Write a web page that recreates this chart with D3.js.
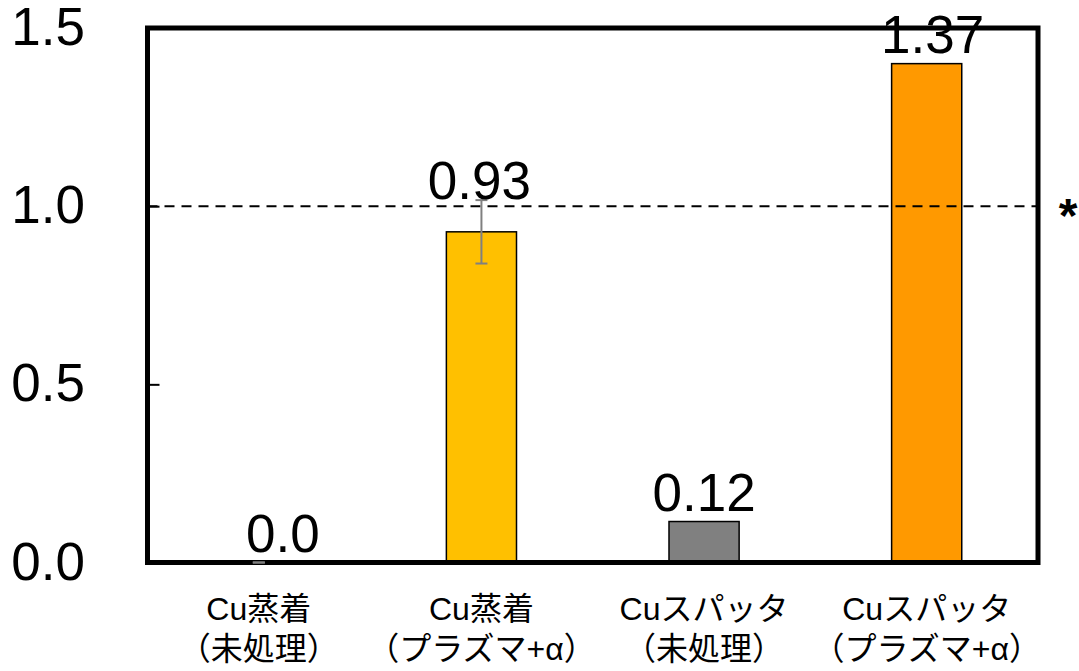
<!DOCTYPE html>
<html>
<head>
<meta charset="utf-8">
<script src="https://cdn.jsdelivr.net/npm/d3@7"></script>
<style>
  body { margin: 0; background: #fff; }
  svg { display: block; font-family: "Liberation Sans", Arial, "Noto Sans CJK JP", sans-serif; }
</style>
</head>
<body>
<div id="chart"></div>
<script>
// data
var categories = ["Cu蒸着|（未処理）", "Cu蒸着|（プラズマ+α）", "Cuスパッタ|（未処理）", "Cuスパッタ|（プラズマ+α）"];
var values = [0, 0.928, 0.115, 1.40];
var valueLabels = ["0.0", "0.93", "0.12", "1.37"];
var errors = [0, 0.089, null, null];
var barColors = ["#FFC000", "#FFC000", "#808080", "#FF9900"];
var yTicks = [0, 0.5, 1.0, 1.5];
var refValue = 1.0;

// layout
var svgWidth = 1079, svgHeight = 671;
var plot = { left: 147.5, right: 1038, top: 28, bottom: 562.5 };
var labelNudge = [24, -2, 0, 6];

var svg = d3.select("#chart").append("svg")
  .attr("width", svgWidth)
  .attr("height", svgHeight);

var x = d3.scaleBand()
  .domain(d3.range(categories.length))
  .range([plot.left, plot.right])
  .padding(0);
var y = d3.scaleLinear().domain([0, 1.5]).range([plot.bottom, plot.top]);

var barW = x.bandwidth() * 0.315;

// bars
svg.selectAll("rect.bar")
  .data(values)
  .enter()
  .append("rect")
  .attr("class", "bar")
  .attr("x", function(d, i) { return x(i) + x.bandwidth() / 2 - barW / 2; })
  .attr("y", function(d) { return y(d); })
  .attr("width", barW)
  .attr("height", function(d) { return y(0) - y(d); })
  .attr("fill", function(d, i) { return barColors[i]; })
  .attr("stroke", "#000")
  .attr("stroke-width", 1.5);

// dashed reference line
svg.append("line")
  .attr("x1", plot.left).attr("x2", plot.right)
  .attr("y1", y(refValue)).attr("y2", y(refValue))
  .attr("stroke", "#000")
  .attr("stroke-width", 2)
  .attr("stroke-dasharray", "10,7");

svg.append("text")
  .attr("x", 1068)
  .attr("y", y(refValue) + 26)
  .attr("text-anchor", "middle")
  .attr("font-size", 48)
  .attr("font-weight", "bold")
  .text("*");

// inward ticks on the left
var leftAxis = d3.axisRight(y).tickValues(yTicks).tickSize(12).tickFormat("");
var axG = svg.append("g")
  .attr("transform", `translate(${plot.left}, 0)`)
  .call(leftAxis);
axG.select(".domain").remove();
axG.selectAll(".tick line").attr("stroke", "#000").attr("stroke-width", 2);

// tick labels
svg.selectAll("text.ytick")
  .data(yTicks)
  .enter()
  .append("text")
  .attr("class", "ytick")
  .attr("x", 85)
  .attr("y", function(d) { return y(d) + 17; })
  .attr("text-anchor", "end")
  .attr("font-size", 53)
  .text(function(d) { return d3.format(".1f")(d); });

// plot frame
svg.append("rect")
  .attr("x", plot.left).attr("y", plot.top)
  .attr("width", plot.right - plot.left)
  .attr("height", plot.bottom - plot.top)
  .attr("fill", "none")
  .attr("stroke", "#000")
  .attr("stroke-width", 5);

// error bars
var errG = svg.append("g").attr("stroke", "#808080").attr("stroke-width", 2);
values.forEach(function(v, i) {
  if (errors[i] === null) return;
  var cx = x(i) + x.bandwidth() / 2;
  var lo = y(v - errors[i]), hi = y(v + errors[i]);
  errG.append("line").attr("x1", cx).attr("x2", cx).attr("y1", lo).attr("y2", hi);
  errG.append("line").attr("x1", cx - 6).attr("x2", cx + 6).attr("y1", lo).attr("y2", lo);
  errG.append("line").attr("x1", cx - 6).attr("x2", cx + 6).attr("y1", hi).attr("y2", hi);
});

// value labels
svg.selectAll("text.vlabel")
  .data(values)
  .enter()
  .append("text")
  .attr("class", "vlabel")
  .attr("x", function(d, i) { return x(i) + x.bandwidth() / 2 + labelNudge[i]; })
  .attr("y", function(d, i) {
    if (errors[i]) return y(d + errors[i]) - 1;
    return y(d) - 11;
  })
  .attr("text-anchor", "middle")
  .attr("font-size", 53)
  .text(function(d, i) { return valueLabels[i]; });

// category labels
var cat = svg.selectAll("text.cat")
  .data(categories)
  .enter()
  .append("text")
  .attr("class", "cat")
  .attr("text-anchor", "middle")
  .attr("font-size", 32);

cat.selectAll("tspan")
  .data(function(d, i) { return d.split("|").map(function(s) { return { s: s, i: i }; }); })
  .enter()
  .append("tspan")
  .attr("x", function(d) { return x(d.i) + x.bandwidth() / 2; })
  .attr("y", function(d, j) { return 620 + j * 40; })
  .text(function(d) { return d.s; });
</script>
</body>
</html>
